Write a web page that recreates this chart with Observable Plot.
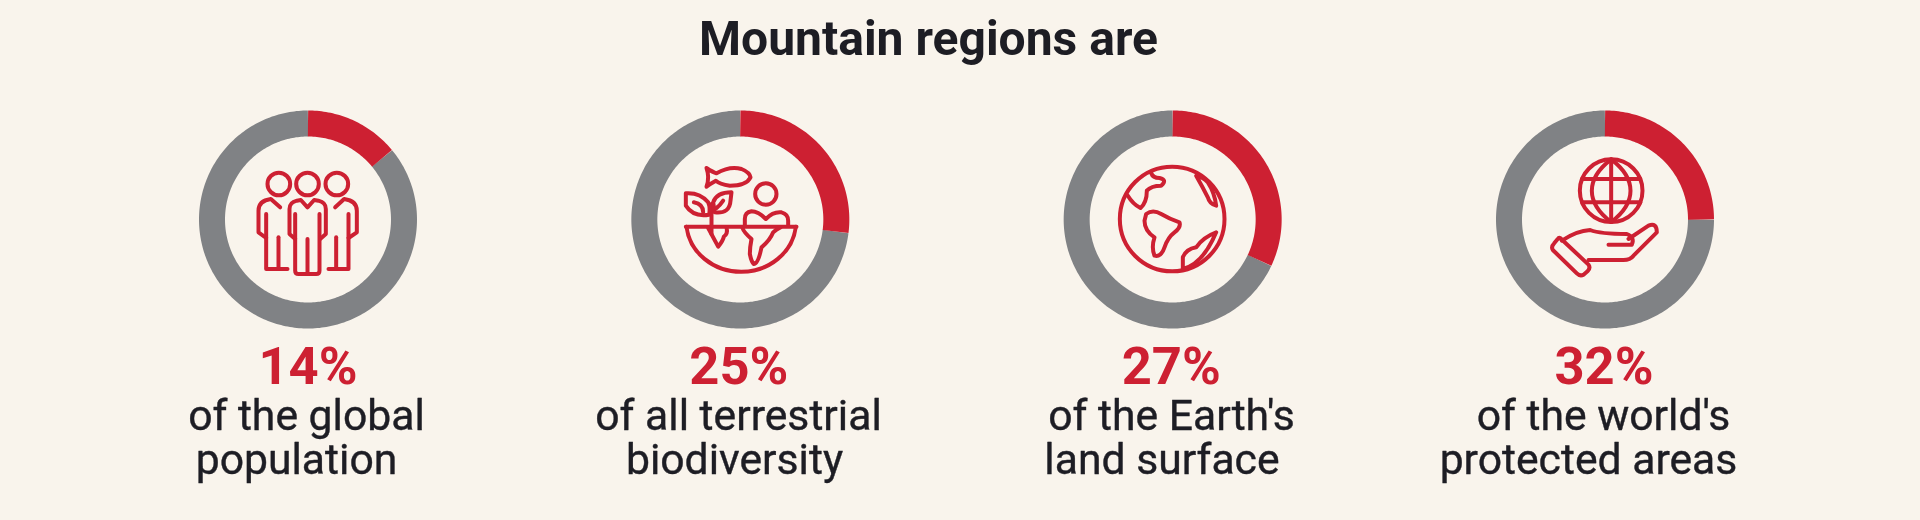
<!DOCTYPE html>
<html>
<head>
<meta charset="utf-8">
<script src="https://cdn.jsdelivr.net/npm/d3@7"></script>
<script src="https://cdn.jsdelivr.net/npm/@observablehq/plot@0.6"></script>
<style>
html,body{margin:0;padding:0;background:#f9f4ec;overflow:hidden}
#chart{filter:blur(.7px)}
</style>
</head>
<body>
<div id="chart"></div>
<script>
const titleText = "Mountain regions are";
const labelValues = ["14%", "25%", "27%", "32%"];
const firstLines = ["of the global", "of all terrestrial", "of the Earth's", "of the world's"];
const secondLines = ["population", "biodiversity", "land surface", "protected areas"];
// Red arc shares as drawn in the picture (they differ from the printed labels)
const drawnShares = [14, 27, 32, 25];

const RED = "#cd2032", GREY = "#808285", INK = "#1d1d24", FONT = "Roboto";
const STEP = 4.5035;        // distance between ring centres, in ring-radius units
const nudgeValue = [0, -1.5, -1.5, -1];
const nudgeFirst = [-1.5, -1.8, -1.2, -1.5];
const nudgeSecond = [-11.5, -5.8, -10.7, -16.5];

// Pictograms: path data in a 3x local drawing space, with their local origin
const iconPaths = [
  {o:[382,385], circles:[[296,280,34],[382,280,34],[470,280,34]], d:[
    "M345 445L328 430V355Q328 335 350 330L362 328L382 350L402 328L415 330Q437 335 437 355V430L420 445",
    "M345 370V540Q345 550 355 550H408Q418 550 418 540V370","M382 445V550",
    "M300 350L272 325Q235 330 235 360V425L258 442","M258 370V535H322","M295 440V535",
    "M465 350L492 325Q530 330 530 360V425L505 442","M505 370V535H445","M468 440V535"]},
  {o:[390,385], circles:[[468,310,32]], d:[
    "M290 232Q310 245 320 248Q360 225 395 235Q420 245 422 260Q410 285 360 285Q330 280 318 270Q300 280 290 288Q300 260 290 232Z",
    "M405 405V385Q405 365 425 362Q445 362 468 385Q490 362 515 365Q535 370 535 390V405",
    "M228 408H560","M230 408A165 152 0 0 0 558 408",
    "M398 412Q402 425 425 445Q420 470 420 490Q425 515 432 520Q445 520 455 470Q480 450 490 425Q500 415 512 410",
    "M295 412Q310 440 325 468Q340 450 342 438Q355 430 350 410",
    "M305 430V340","M298 372Q250 380 228 345V308Q270 305 295 335Q302 350 298 372Z","M315 365Q360 370 362 330L365 305Q320 305 310 335Z",
    "M252 335Q280 340 280 365","M340 330Q330 345 320 352"]},
  {o:[398,385], circles:[[398,385,157]], d:[
    "M335 247Q340 262 360 262Q385 268 365 285Q335 285 322 300Q322 335 303 352Q280 340 265 315",
    "M320 370Q340 355 365 370Q390 385 420 395Q425 410 405 425Q385 440 375 470Q365 500 345 495Q335 470 345 440Q315 420 315 390Z",
    "M470 255Q490 290 505 320Q510 340 530 345Q525 305 505 275Q490 260 470 255Z",
    "M530 425Q490 440 470 470Q440 475 430 500V535Q490 520 530 425Z"]},
  {o:[373,385], circles:[[393,300,94]], d:[
    "M393 206Q335 250 335 300Q335 350 393 394Q451 350 451 300Q451 250 393 206Z",
    "M393 206V394","M306 265H480","M306 335H480",
    "M240 442L325 522Q332 532 322 542L310 552Q300 558 290 548L218 478Q212 468 222 458L232 446Q236 440 240 442Z",
    "M245 450Q290 420 330 418Q360 430 440 430Q465 440 455 462H385",
    "M445 445L505 405Q530 395 530 425L460 495Q450 508 430 508H325"]}
];

const slots = labelValues.map((_, i) => i * STEP);
function ringPoints(slot, from, to) {
  const n = Math.max(2, Math.ceil((to - from) * 3));
  return d3.range(n + 1).map(k => {
    const a = (from + (to - from) * k / n) / 100 * 2 * Math.PI;
    return {slot, x: slots[slot] + Math.sin(a), y: Math.cos(a)};
  });
}
const greyRows = drawnShares.flatMap((s, i) => ringPoints(i, s, 100));
const redRows = drawnShares.flatMap((s, i) => ringPoints(i, 0, s));

const iconMark = (index, scales) => {
  const g = d3.create("svg:g").attr("fill", "none").attr("stroke", RED)
    .attr("stroke-width", 12).attr("stroke-linejoin", "round").attr("stroke-linecap", "round");
  iconPaths.forEach((ic, i) => {
    const t = g.append("g").attr("transform",
      `translate(${scales.x(slots[i])},${scales.y(0)}) scale(${1/3}) translate(${-ic.o[0]},${-ic.o[1]})`);
    ic.circles.forEach(c => t.append("circle").attr("cx", c[0]).attr("cy", c[1]).attr("r", c[2]));
    ic.d.forEach(d => t.append("path").attr("d", d));
  });
  return g.node();
};

const textMarks = [];
labelValues.forEach((_, i) => {
  const base = {x: () => slots[i], y: () => 0, textAnchor: "middle", lineAnchor: "bottom", fontFamily: FONT};
  textMarks.push(Plot.text([labelValues[i]], {...base, text: d => d, dx: nudgeValue[i], dy: 164, fontSize: 52.5, fontWeight: 700, fill: RED}));
  textMarks.push(Plot.text([firstLines[i]], {...base, text: d => d, dx: nudgeFirst[i], dy: 210, fontSize: 42.7, fill: INK, stroke: INK, strokeWidth: 0.4}));
  textMarks.push(Plot.text([secondLines[i]], {...base, text: d => d, dx: nudgeSecond[i], dy: 254, fontSize: 42.7, fill: INK, stroke: INK, strokeWidth: 0.4}));
});

const lineStyle = {x: "x", y: "y", z: "slot", strokeWidth: 26, strokeLinecap: "butt", strokeLinejoin: "round", curve: "linear"};
const plot = Plot.plot({
  width: 1920, height: 520, margin: 0,
  style: {background: "transparent", fontFamily: FONT},
  x: {type: "linear", domain: [0, 3 * STEP], range: [307.5, 1604.5], axis: null},
  y: {type: "linear", domain: [-1, 1], range: [315, 123], axis: null},
  marks: [
    Plot.line(greyRows, {...lineStyle, stroke: GREY}),
    Plot.line(redRows, {...lineStyle, stroke: RED}),
    iconMark,
    Plot.text([titleText], {text: d => d, frameAnchor: "top-left", dx: 928, dy: 54, textAnchor: "middle", lineAnchor: "bottom", fontFamily: FONT, fontSize: 48, fontWeight: 700, fill: INK}),
    ...textMarks
  ]
});
document.getElementById("chart").appendChild(plot);
</script>
</body>
</html>
